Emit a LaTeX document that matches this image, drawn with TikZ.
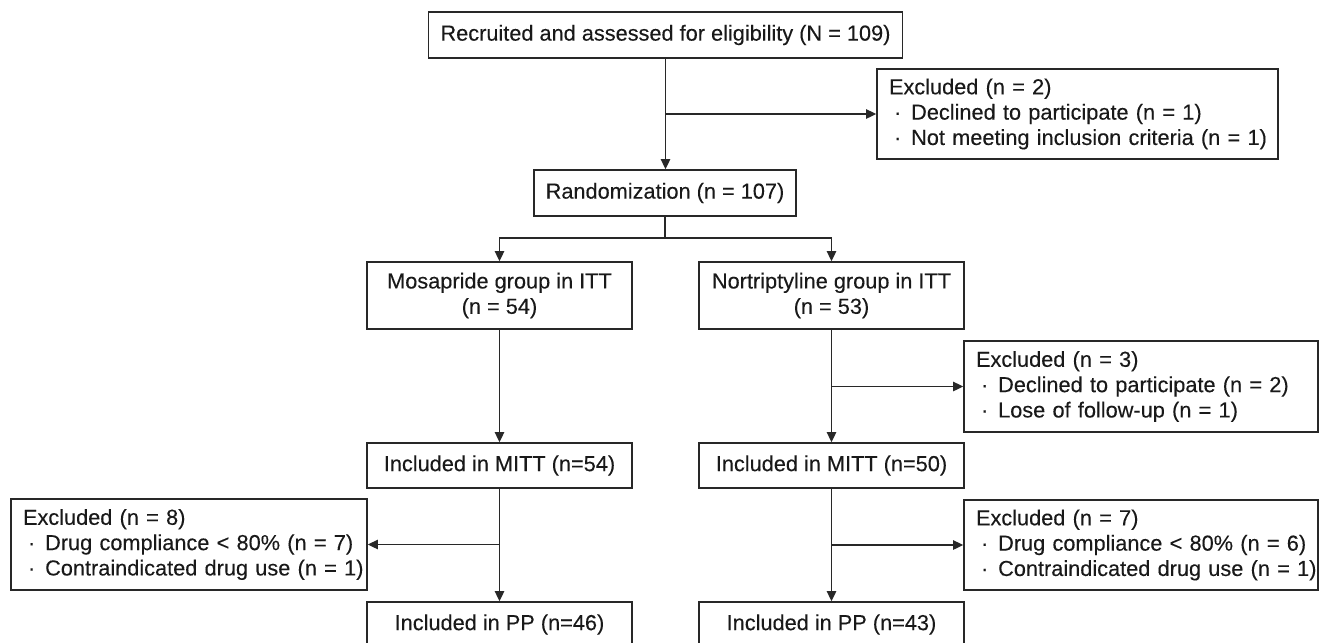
\documentclass[tikz,border=0pt]{standalone}
\usepackage{fontspec}
\setmainfont{Liberation Sans}[BoldFont=Liberation Sans, BoldFeatures={FakeBold=0.2}]
\usetikzlibrary{arrows.meta}
\definecolor{linec}{RGB}{40,40,40}
\definecolor{textc}{RGB}{25,25,25}
\newcommand{\myind}[1]{\mbox{\hspace*{9pt}#1}}
\newcommand{\mybul}[1]{\mbox{\hspace*{12.8pt}·\hspace{7.4pt}#1}}
\begin{document}
\begin{tikzpicture}[x=0.75pt,y=-0.75pt,
  box/.style={draw=linec, line width=1.25pt, text=textc, inner xsep=9pt, inner ysep=0pt,
    font=\fontsize{16.3}{19}\selectfont\bfseries, align=center},
  exbox/.style={box, align=left, inner xsep=0pt},
  arr/.style={draw=linec, line width=1.2pt, -{Triangle[length=7.5pt,width=7pt]}},
  plain/.style={draw=linec, line width=1.2pt}]
\useasboundingbox (0,0) rectangle (1322,643);

\node[box, minimum width=351.75pt, minimum height=34.5pt] (top) at (665.5,35)
  {Recruited and assessed for eligibility (N = 109)};
\node[exbox, minimum width=300.75pt, minimum height=67.5pt, text width=300.75pt] (ex1) at (1077.5,114)
  {\myind{Excluded (n = 2)}\\\mybul{Declined to participate (n = 1)}\\\mybul{Not meeting inclusion criteria (n = 1)}};
\node[box, minimum width=193.5pt, minimum height=34.5pt] (rand) at (665,193)
  {Randomization (n = 107)};
\node[box, minimum width=198.75pt, minimum height=50.25pt] (mosa) at (499.5,295.5)
  {Mosapride group in ITT\\(n = 54)};
\node[box, minimum width=198.75pt, minimum height=50.25pt] (nort) at (831.5,295.5)
  {Nortriptyline group in ITT\\(n = 53)};
\node[exbox, minimum width=265.5pt, minimum height=68.25pt, text width=265.5pt] (ex3) at (1141,386.5)
  {\myind{Excluded (n = 3)}\\\mybul{Declined to participate (n = 2)}\\\mybul{Lose of follow-up (n = 1)}};
\node[box, minimum width=198.75pt, minimum height=33.75pt] (mittL) at (499.5,465.5)
  {Included in MITT (n=54)};
\node[box, minimum width=198.75pt, minimum height=33.75pt] (mittR) at (831.5,465.5)
  {Included in MITT (n=50)};
\node[exbox, minimum width=267pt, minimum height=68.25pt, text width=267pt] (ex8) at (189,544.5)
  {\myind{Excluded (n = 8)}\\\mybul{Drug compliance < 80\% (n = 7)}\\\mybul{Contraindicated drug use (n = 1)}};
\node[exbox, minimum width=265.5pt, minimum height=67.5pt, text width=265.5pt] (ex7) at (1141,545)
  {\myind{Excluded (n = 7)}\\\mybul{Drug compliance < 80\% (n = 6)}\\\mybul{Contraindicated drug use (n = 1)}};
\node[box, minimum width=198.75pt, minimum height=33.75pt] (ppL) at (499.5,624.5)
  {Included in PP (n=46)};
\node[box, minimum width=198.75pt, minimum height=33.75pt] (ppR) at (831.5,624.5)
  {Included in PP (n=43)};

\coordinate (split) at (665,238);
\draw[arr] (top.south) -- (top.south |- rand.north);
\draw[arr] (top.south |- ex1.west) -- (ex1.west);
\draw[plain] (rand.south) -- (rand.south |- split);
\draw[arr] (rand.south |- split) -| (mosa.north);
\draw[arr] (rand.south |- split) -| (nort.north);
\draw[arr] (mosa) -- (mittL);
\draw[arr] (nort) -- (mittR);
\draw[arr] (nort.south |- ex3.west) -- (ex3.west);
\draw[arr] (mittL) -- (ppL);
\draw[arr] (mittL.south |- ex8.east) -- (ex8.east);
\draw[arr] (mittR) -- (ppR);
\draw[arr] (mittR.south |- ex7.west) -- (ex7.west);
\end{tikzpicture}
\end{document}
